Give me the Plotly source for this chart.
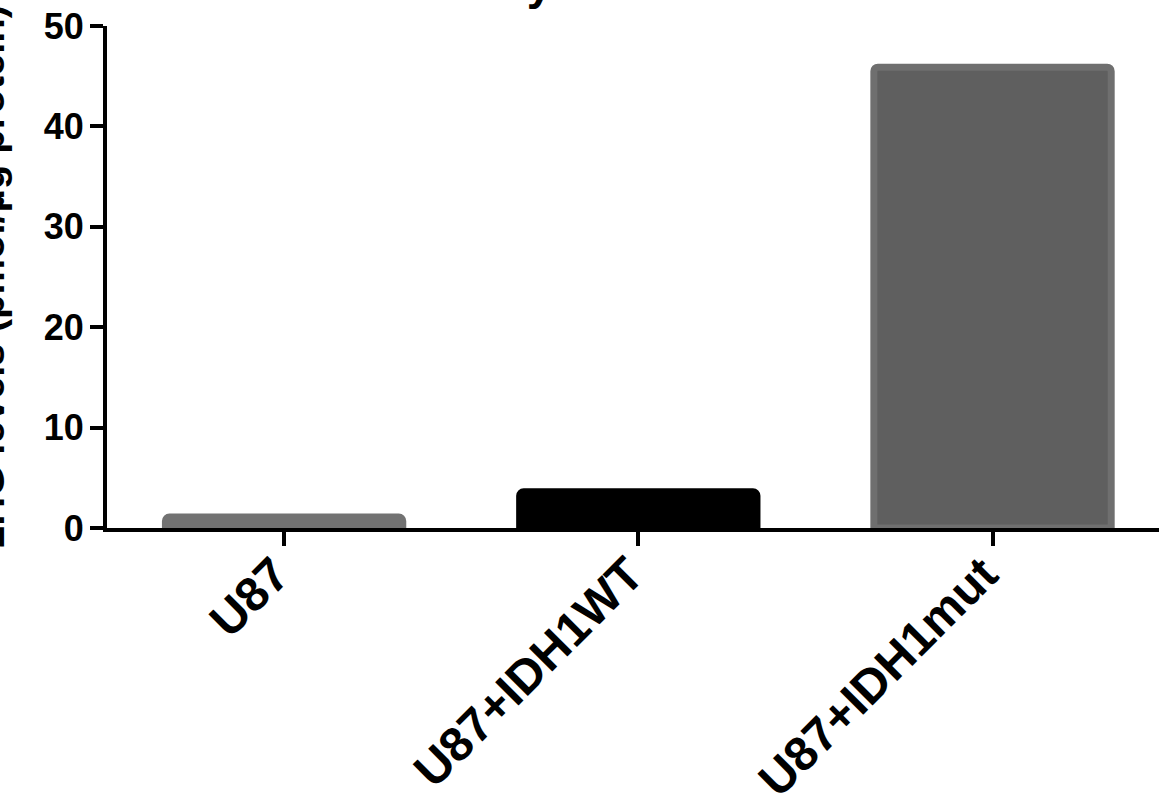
import plotly.graph_objects as go

# Cell lines and their measured 2HG levels
categories = ["U87", "U87+IDH1WT", "U87+IDH1mut"]
levels = [1.1, 3.6, 45.9]
y_ticks = [0, 10, 20, 30, 40, 50]

fill_colors = ["#727272", "#000000", "#5f5f5f"]
edge_colors = ["#727272", "#000000", "#6f6f6f"]

FONT = "Arial, 'Liberation Sans', Helvetica, sans-serif"

fig = go.Figure(
    go.Bar(
        x=categories,
        y=levels,
        width=0.67,
        marker=dict(
            color=fill_colors,
            line=dict(color=edge_colors, width=7),
            cornerradius=4,
        ),
    )
)

fig.update_layout(
    width=1159,
    height=809,
    margin=dict(l=107, r=0, t=26, b=281, autoexpand=False),
    plot_bgcolor="white",
    paper_bgcolor="white",
    showlegend=False,
    font=dict(family=FONT, color="black"),
    annotations=[
        dict(
            text="Cellular 2HG Enzymatic Detection Results",
            xref="paper", yref="paper", x=0.5, y=1,
            xanchor="center", yanchor="bottom", yshift=15, xshift=-18,
            showarrow=False,
            font=dict(size=46, family=FONT, weight="bold", color="black"),
        ),
        dict(
            text="2HG levels (pmol/µg protein)",
            xref="paper", yref="paper", x=0, y=0.5,
            xanchor="right", yanchor="middle", xshift=-93,
            textangle=-90, showarrow=False,
            font=dict(size=40, family=FONT, weight="bold", color="black"),
        ),
    ],
)

fig.update_xaxes(
    range=[-0.5, 2.47],
    automargin=False,
    showline=True, linewidth=4, linecolor="black",
    ticks="outside", ticklen=14, tickwidth=4, tickcolor="black",
    tickangle=-45,
    ticklabelstandoff=-19,
    ticklabelshift=-9,
    tickfont=dict(size=48, family=FONT, weight="bold", color="black"),
    showgrid=False, zeroline=False,
)

fig.update_yaxes(
    range=[0, 50],
    tickvals=y_ticks,
    automargin=False,
    showline=True, linewidth=4, linecolor="black",
    ticks="outside", ticklen=13, tickwidth=4, tickcolor="black",
    ticklabelstandoff=-1,
    tickfont=dict(size=36, family=FONT, weight="bold", color="black"),
    showgrid=False, zeroline=False,
)

fig.write_html("out.html")
